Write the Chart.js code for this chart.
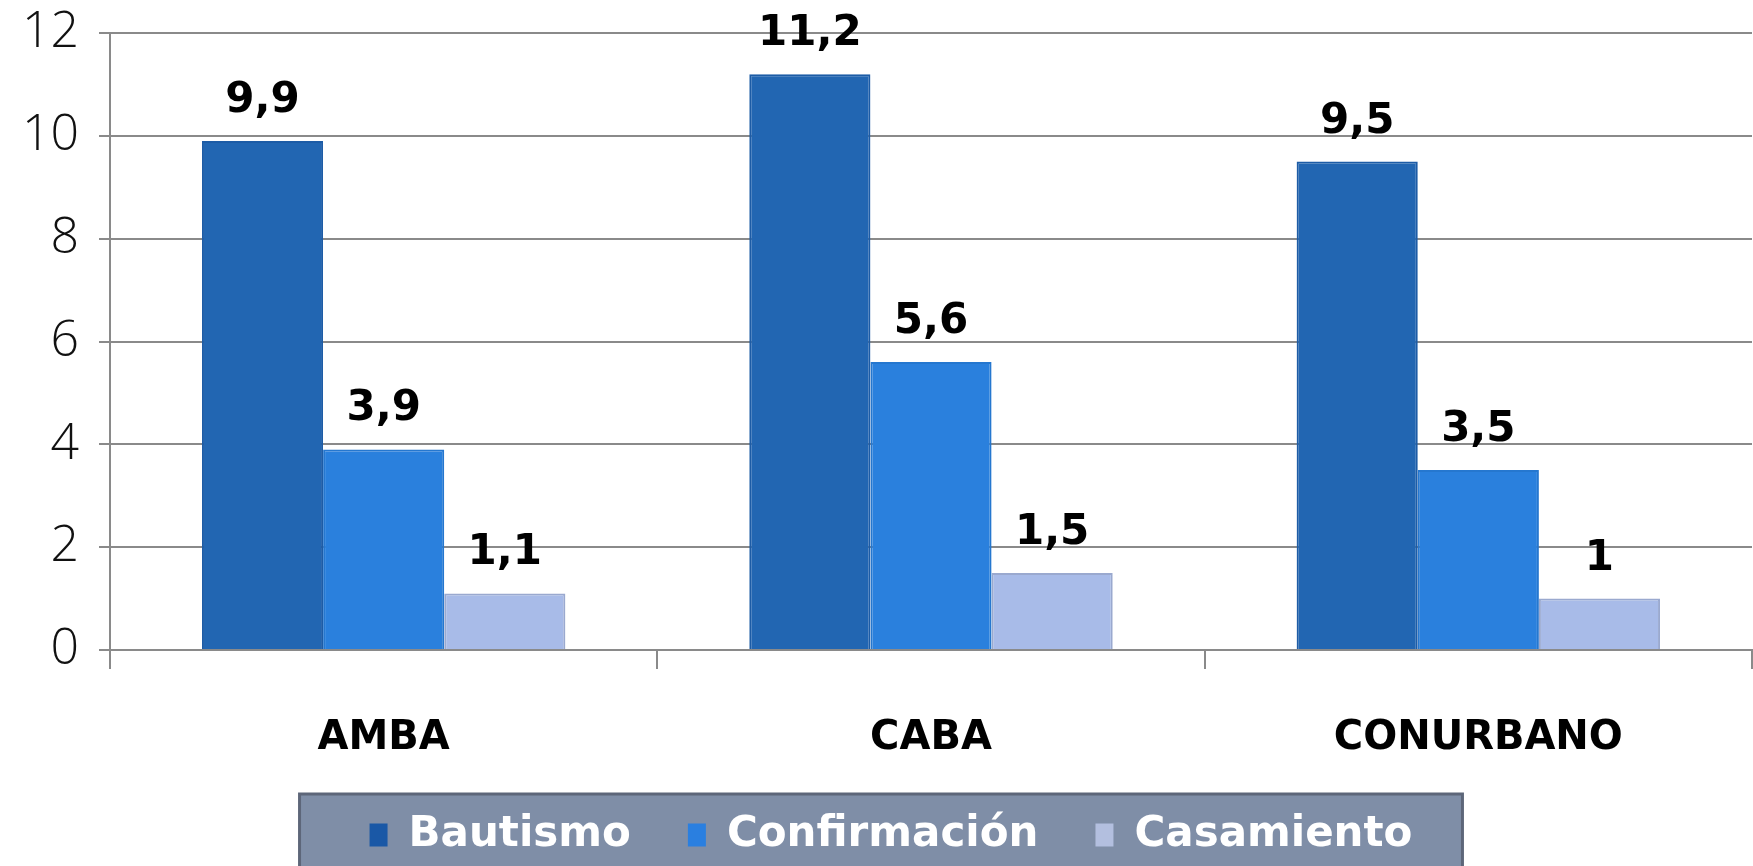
<!DOCTYPE html>
<html>
<head>
<meta charset="utf-8">
<script src="https://cdn.jsdelivr.net/npm/chart.js@4.4.1/dist/chart.umd.min.js"></script>
<style>
  html, body { margin: 0; padding: 0; background: #ffffff; }
  #wrap { width: 1753px; height: 866px; }
</style>
</head>
<body>
<div id="wrap"><canvas id="c" width="1753" height="866"></canvas></div>
<script>
// Sacramentos por región (valores del gráfico)
const categories = ['AMBA', 'CABA', 'CONURBANO'];
const seriesNames = ['Bautismo', 'Confirmación', 'Casamiento'];
const bautismo = [9.9, 11.2, 9.5];
const confirmacion = [3.9, 5.6, 3.5];
const casamiento = [1.1, 1.5, 1.0];
const yMin = 0, yMax = 12, yStep = 2;

const fills = ['#2266b2', '#2a80dd', '#a8bbe8'];
const borders = ['#1d5ca6', '#2577cf', '#9aa9cf'];
const legendSwatches = ['#1a58a6', '#2a7fe0', '#b3bfdf'];

const BOLD = '"DejaVu Sans", "Liberation Sans", sans-serif';
const THIN = '"Open Sans", "Noto Sans", sans-serif';

function fmt(v) {
  return String(v).replace('.', ',');
}

// value labels above each bar
const valueLabels = {
  id: 'valueLabels',
  afterDatasetsDraw(chart) {
    const ctx = chart.ctx;
    ctx.save();
    ctx.font = 'bold 42px ' + BOLD;
    ctx.fillStyle = '#000000';
    ctx.textAlign = 'center';
    ctx.textBaseline = 'alphabetic';
    chart.data.datasets.forEach((ds, di) => {
      const meta = chart.getDatasetMeta(di);
      meta.data.forEach((el, i) => {
        ctx.fillText(fmt(ds.data[i]), el.x, el.y - 29);
      });
    });
    ctx.restore();
  }
};

// grey panel behind the legend row; the row sits a little right of centre
const legendPanel = {
  id: 'legendPanel',
  afterLayout(chart) {
    const lg = chart.legend;
    if (lg) { lg.left += 15; lg.right += 15; }
  },
  beforeDraw(chart) {
    const lg = chart.legend;
    if (!lg || !lg.legendHitBoxes || !lg.legendHitBoxes.length) return;
    const boxes = lg.legendHitBoxes;
    const first = boxes[0], last = boxes[boxes.length - 1];
    const left = first.left - 70;
    const right = last.left + last.width + 50;
    const top = first.top + first.height / 2 - 41;
    const ctx = chart.ctx;
    ctx.save();
    ctx.fillStyle = '#7f8ea7';
    ctx.fillRect(left, top, right - left, chart.height - top + 2);
    ctx.strokeStyle = '#5d6679';
    ctx.lineWidth = 3;
    ctx.strokeRect(left, top, right - left, chart.height - top + 4);
    ctx.restore();
  }
};

const datasets = [bautismo, confirmacion, casamiento].map((d, i) => ({
  label: seriesNames[i],
  data: d,
  backgroundColor: fills[i],
  borderColor: borders[i],
  borderWidth: 2,
  borderSkipped: 'bottom',
  categoryPercentage: 0.664,
  barPercentage: 1.0
}));

new Chart(document.getElementById('c'), {
  type: 'bar',
  data: { labels: categories, datasets },
  options: {
    responsive: false,
    animation: false,
    devicePixelRatio: 1,
    layout: { padding: { left: 0, right: 1, top: 33, bottom: 0 } },
    plugins: {
      tooltip: { enabled: false },
      legend: {
        display: true,
        position: 'bottom',
        labels: {
          font: { family: BOLD, size: 42, weight: 'bold' },
          color: '#ffffff',
          boxWidth: 18,
          boxHeight: 23,
          padding: 57,
          generateLabels(chart) {
            return chart.data.datasets.map((ds, i) => ({
              text: ds.label,
              fillStyle: legendSwatches[i],
              strokeStyle: legendSwatches[i],
              lineWidth: 0,
              fontColor: '#ffffff',
              datasetIndex: i,
              hidden: false
            }));
          }
        }
      }
    },
    scales: {
      x: {
        grid: {
          offset: true,
          drawOnChartArea: false,
          drawTicks: true,
          tickLength: 19,
          color: '#8a8a8a',
          lineWidth: 2
        },
        border: { color: '#8a8a8a', width: 2 },
        ticks: {
          font: { family: BOLD, size: 40, weight: 'bold' },
          color: '#000000',
          padding: 46
        },
        afterFit(scale) { scale.height = 107; }
      },
      y: {
        min: yMin,
        max: yMax,
        ticks: {
          stepSize: yStep,
          font: { family: THIN, size: 50, weight: '300' },
          color: '#111111',
          padding: 20
        },
        grid: {
          color: '#8a8a8a',
          lineWidth: 2,
          tickLength: 11
        },
        border: { color: '#8a8a8a', width: 2 },
        afterFit(scale) {
          scale.width = 110;
          scale.paddingTop = 0;
          scale.paddingBottom = 0;
        }
      }
    }
  },
  plugins: [legendPanel, valueLabels]
});
</script>
</body>
</html>
